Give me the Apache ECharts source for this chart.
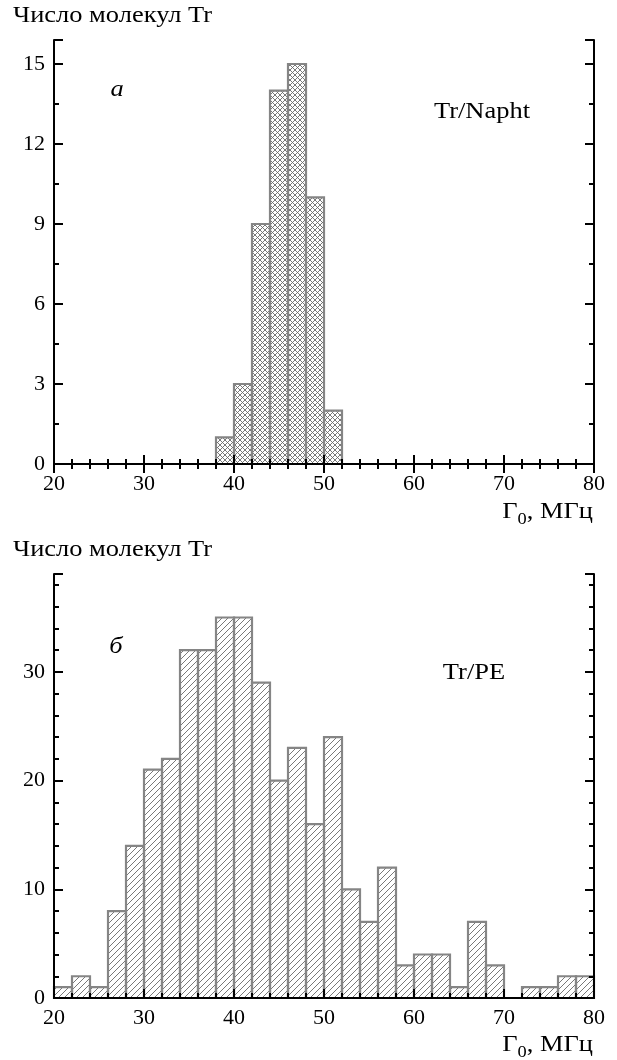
<!DOCTYPE html>
<html>
<head>
<meta charset="utf-8">
<script src="https://cdn.jsdelivr.net/npm/echarts@6/dist/echarts.min.js"></script>
<style>
html,body{margin:0;padding:0;background:#fff;}
#chart{width:617px;height:1060px;}
</style>
</head>
<body>
<div id="chart"></div>
<script>
// ---- data ----
const binWidth = 2;
const naphtBinStarts = [38, 40, 42, 44, 46, 48, 50];
const naphtCounts    = [1, 3, 9, 14, 15, 10, 2];
const peBinStarts = [20,22,24,26,28,30,32,34,36,38,40,42,44,46,48,50,52,54,56,58,60,62,64,66,68,70,72,74,76,78];
const peCounts    = [1, 2, 1, 8,14,21,22,32,32,35,35,29,20,23,16,24,10, 7,12, 3, 4, 4, 1, 7, 3, 0, 1, 1, 2, 2];
const xTickLabels = [20, 30, 40, 50, 60, 70, 80];
const yTickLabelsA = [0, 3, 6, 9, 12, 15];
const yTickLabelsB = [0, 10, 20, 30];
const yLabel = 'Число молекул Tr';
const xLabelMain = 'Г';
const xLabelSub = '0';
const xLabelTail = ', МГц';
const panelLetters = ['а', 'б'];
const panelNames = ['Tr/Napht', 'Tr/PE'];

// ---- styling ----
const FONT = '"Liberation Serif", "DejaVu Serif", serif';
const FS = 22;      // tick labels
const WFS = 23;     // words
const SX = 1.15;    // horizontal widening to mimic Computer Modern proportions

function makePattern(cross) {
  const s = cross ? 5 : 6;
  const c = document.createElement('canvas');
  c.width = s; c.height = s;
  const ctx = c.getContext('2d');
  ctx.strokeStyle = '#6a6a6a';
  ctx.lineWidth = 0.9;
  ctx.beginPath();
  ctx.moveTo(0, s); ctx.lineTo(s, 0);
  ctx.moveTo(-1, 1); ctx.lineTo(1, -1);
  ctx.moveTo(s - 1, s + 1); ctx.lineTo(s + 1, s - 1);
  if (cross) {
    ctx.moveTo(0, 0); ctx.lineTo(s, s);
    ctx.moveTo(-1, s - 1); ctx.lineTo(1, s + 1);
    ctx.moveTo(s - 1, -1); ctx.lineTo(s + 1, 1);
  }
  ctx.stroke();
  return {image: c, repeat: 'repeat'};
}
const patCross = makePattern(true);
const patDiag = makePattern(false);

const grids = [
  {left: 54, right: 23, top: 40, height: 424},
  {left: 54, right: 23, top: 574, height: 424}
];

function near(list, v) { return list.some(t => Math.abs(t - v) < 1e-6); }

const xAxes = [];
const yAxes = [];
function addAxes(g, yMax, yMinor, yMajor, yLabels, topTicks) {
  const base = {type: 'value', gridIndex: g, splitLine: {show: false}, z: 5};
  const line = {show: true, lineStyle: {color: '#000', width: 2}};
  xAxes.push(Object.assign({}, base, {
    position: 'bottom', min: 20, max: 80, interval: 2,
    axisLine: line,
    axisTick: {show: true, inside: true, length: 5, lineStyle: {color: '#000', width: 2}},
    axisLabel: {show: true, margin: 9, color: '#000', fontFamily: FONT, fontSize: FS,
      formatter: v => near(xTickLabels, v) ? String(v) : ''}
  }));
  const xIdx = xAxes.length - 1;
  xAxes.push(Object.assign({}, base, {
    position: 'bottom', min: 20, max: 80, interval: 10,
    axisLine: {show: false},
    axisTick: {show: true, inside: true, length: 9, lineStyle: {color: '#000', width: 2}},
    axisLabel: {show: false}
  }));
  xAxes.push(Object.assign({}, base, {
    position: 'top', min: 20, max: 80, interval: 2,
    axisLine: line,
    axisTick: {show: topTicks, inside: true, length: 5, lineStyle: {color: '#000', width: 2}},
    axisLabel: {show: false}
  }));
  xAxes.push(Object.assign({}, base, {
    position: 'top', min: 20, max: 80, interval: 10,
    axisLine: {show: false},
    axisTick: {show: topTicks, inside: true, length: 9, lineStyle: {color: '#000', width: 2}},
    axisLabel: {show: false}
  }));
  yAxes.push(Object.assign({}, base, {
    position: 'left', min: 0, max: yMax, interval: yMinor,
    axisLine: line,
    axisTick: {show: true, inside: true, length: 5, lineStyle: {color: '#000', width: 2}},
    axisLabel: {show: true, margin: 9, color: '#000', fontFamily: FONT, fontSize: FS,
      showMaxLabel: false,
      formatter: v => near(yLabels, v) ? String(v) : ''}
  }));
  const yIdx = yAxes.length - 1;
  yAxes.push(Object.assign({}, base, {
    position: 'left', min: 0, max: yMax, interval: yMajor,
    axisLine: {show: false},
    axisTick: {show: true, inside: true, length: 9, lineStyle: {color: '#000', width: 2}},
    axisLabel: {show: false}
  }));
  yAxes.push(Object.assign({}, base, {
    position: 'right', min: 0, max: yMax, interval: yMinor,
    axisLine: line,
    axisTick: {show: true, inside: true, length: 5, lineStyle: {color: '#000', width: 2}},
    axisLabel: {show: false}
  }));
  yAxes.push(Object.assign({}, base, {
    position: 'right', min: 0, max: yMax, interval: yMajor,
    axisLine: {show: false},
    axisTick: {show: true, inside: true, length: 9, lineStyle: {color: '#000', width: 2}},
    axisLabel: {show: false}
  }));
  return [xIdx, yIdx];
}
const [xa, ya] = addAxes(0, 15.9, 1.5, 3, yTickLabelsA, true);
const [xb, yb] = addAxes(1, 39, 2, 10, yTickLabelsB, false);

function histSeries(starts, counts, xi, yi, pattern) {
  return {
    type: 'custom',
    xAxisIndex: xi, yAxisIndex: yi,
    z: 2,
    data: starts.map((s, i) => [s, s + binWidth, counts[i]]),
    renderItem: function (params, api) {
      const n = api.value(2);
      if (!n) return null;
      const p0 = api.coord([api.value(0), n]);
      const p1 = api.coord([api.value(1), 0]);
      return {
        type: 'rect',
        shape: {x: p0[0], y: p0[1], width: p1[0] - p0[0], height: p1[1] - p0[1]},
        style: {fill: pattern, stroke: '#858585', lineWidth: 2.2}
      };
    }
  };
}

const mctx = document.createElement('canvas').getContext('2d');
function tw(t, size) { mctx.font = size + 'px ' + FONT; return mctx.measureText(t).width; }

function axisTitle(rightX, cy) {
  const wMain = tw(xLabelMain, WFS) * SX, wSub = tw(xLabelSub, 16) * SX, wTail = tw(xLabelTail, WFS) * SX;
  const x0 = rightX - (wMain + wSub + wTail);
  const mk = (t, x, y, size) => ({type: 'text', x: x, y: y, scaleX: SX,
    style: {text: t, font: size + 'px ' + FONT, fill: '#000', textAlign: 'left', textVerticalAlign: 'middle'}});
  return [
    mk(xLabelMain, x0, cy, WFS),
    mk(xLabelSub, x0 + wMain, cy + 8, 16),
    mk(xLabelTail, x0 + wMain + wSub, cy, WFS)
  ];
}
function txt(t, x, y, opts) {
  return {type: 'text', x: x, y: y, scaleX: SX,
    style: Object.assign({text: t, font: WFS + 'px ' + FONT, fill: '#000', textAlign: 'center', textVerticalAlign: 'middle'}, opts || {})};
}

const graphics = [
  txt(yLabel, 13, 16, {textAlign: 'left'}),
  txt(yLabel, 13, 550, {textAlign: 'left'}),
  txt(panelLetters[0], 117, 90, {font: 'italic ' + WFS + 'px ' + FONT}),
  txt(panelLetters[1], 116, 647, {font: 'italic ' + WFS + 'px ' + FONT}),
  txt(panelNames[0], 482, 112),
  txt(panelNames[1], 474, 673)
].concat(axisTitle(593, 512), axisTitle(593, 1045));

const chart = echarts.init(document.getElementById('chart'), null, {renderer: 'canvas', width: 617, height: 1060});
chart.setOption({
  animation: false,
  backgroundColor: '#fff',
  grid: grids,
  xAxis: xAxes,
  yAxis: yAxes,
  series: [
    histSeries(naphtBinStarts, naphtCounts, xa, ya, patCross),
    histSeries(peBinStarts, peCounts, xb, yb, patDiag)
  ],
  graphic: graphics
});
</script>
</body>
</html>
